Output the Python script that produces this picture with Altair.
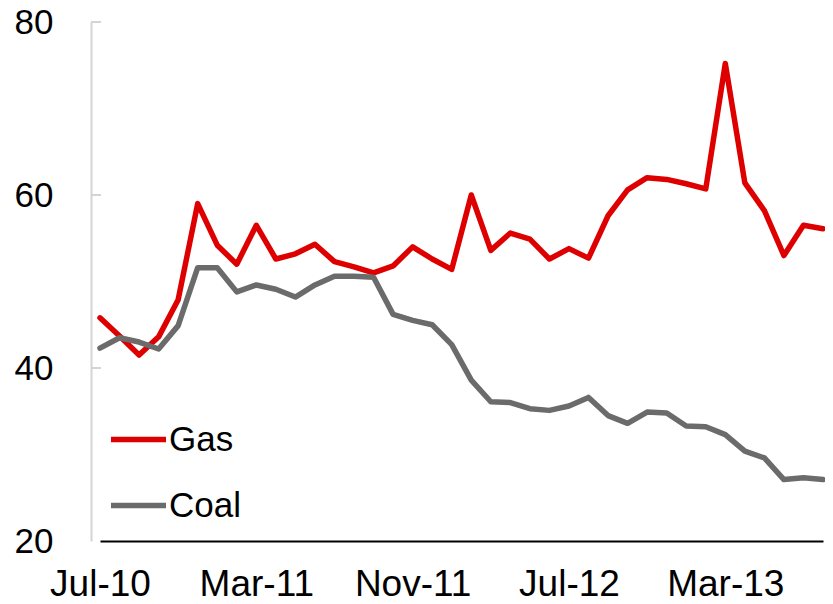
import altair as alt
import pandas as pd

months = ["Jul-10", "Aug-10", "Sep-10", "Oct-10", "Nov-10", "Dec-10",
          "Jan-11", "Feb-11", "Mar-11", "Apr-11", "May-11", "Jun-11",
          "Jul-11", "Aug-11", "Sep-11", "Oct-11", "Nov-11", "Dec-11",
          "Jan-12", "Feb-12", "Mar-12", "Apr-12", "May-12", "Jun-12",
          "Jul-12", "Aug-12", "Sep-12", "Oct-12", "Nov-12", "Dec-12",
          "Jan-13", "Feb-13", "Mar-13", "Apr-13", "May-13", "Jun-13",
          "Jul-13", "Aug-13"]

gas = [45.8, 43.7, 41.5, 43.6, 47.9, 59.0, 54.2, 52.0, 56.5, 52.6,
       53.2, 54.3, 52.3, 51.7, 51.0, 51.8, 54.0, 52.6, 51.4, 60.0,
       53.6, 55.6, 54.9, 52.6, 53.8, 52.7, 57.6, 60.6, 62.0, 61.8,
       61.3, 60.7, 75.2, 61.4, 58.2, 53.0, 56.5, 56.1]

coal = [42.3, 43.5, 43.0, 42.2, 44.9, 51.6, 51.6, 48.8, 49.6, 49.1,
        48.2, 49.6, 50.6, 50.6, 50.5, 46.2, 45.5, 45.0, 42.7, 38.6,
        36.1, 36.0, 35.3, 35.1, 35.6, 36.6, 34.5, 33.6, 34.9, 34.8,
        33.3, 33.2, 32.3, 30.4, 29.6, 27.1, 27.3, 27.1]

series_names = ["Gas", "Coal"]
series_colors = ["#DE0000", "#6B6B6B"]
x_tick_labels = ["Jul-10", "Mar-11", "Nov-11", "Jul-12", "Mar-13"]
y_ticks = [20, 40, 60, 80]

df = pd.concat([
    pd.DataFrame({"month": months, "value": gas, "series": "Gas"}),
    pd.DataFrame({"month": months, "value": coal, "series": "Coal"}),
])
ticks_df = pd.DataFrame({"v": y_ticks[1:]})

FONT = "Liberation Sans"

x_enc = alt.X("month:N", sort=months, title=None,
              scale=alt.Scale(type="point", padding=0, range=[9, 732]),
              axis=alt.Axis(values=x_tick_labels, labelAngle=0, tickSize=0,
                            labelPadding=25, labelFontSize=37, labelFont=FONT,
                            labelColor="#000000", domainColor="#000000",
                            domainWidth=2, grid=False))
y_scale = alt.Scale(domain=[20, 80], nice=False, zero=False)

lines = alt.Chart(df).mark_line(strokeWidth=5.5, strokeJoin="round", strokeCap="round").encode(
    x=x_enc,
    y=alt.Y("value:Q", scale=y_scale, title=None,
            axis=alt.Axis(values=y_ticks, tickSize=0, labelPadding=38,
                          labelFontSize=35, labelFont=FONT, labelColor="#000000",
                          domainColor="#D4D4D4", domainWidth=2, grid=False)),
    color=alt.Color("series:N", sort=series_names,
                    scale=alt.Scale(domain=series_names, range=series_colors),
                    legend=alt.Legend(title=None, orient="none", legendX=17, legendY=387,
                                      symbolType="stroke", symbolSize=3025,
                                      symbolStrokeWidth=5.5, labelFontSize=35,
                                      labelFont=FONT, labelColor="#000000",
                                      labelOffset=0, rowPadding=17)),
)

ticks = alt.Chart(ticks_df).mark_rule(color="#D4D4D4", strokeWidth=2).encode(
    y=alt.Y("v:Q", scale=y_scale),
    x=alt.value(0),
    x2=alt.value(10),
)

chart = alt.layer(ticks, lines).properties(
    width=734, height=519,
    autosize=alt.AutoSizeParams(type="none"),
    padding={"left": 83, "top": 14, "right": 0, "bottom": 62},
).configure_view(stroke=None)

chart.save("out.html", embed_options={"renderer": "svg", "actions": False})
